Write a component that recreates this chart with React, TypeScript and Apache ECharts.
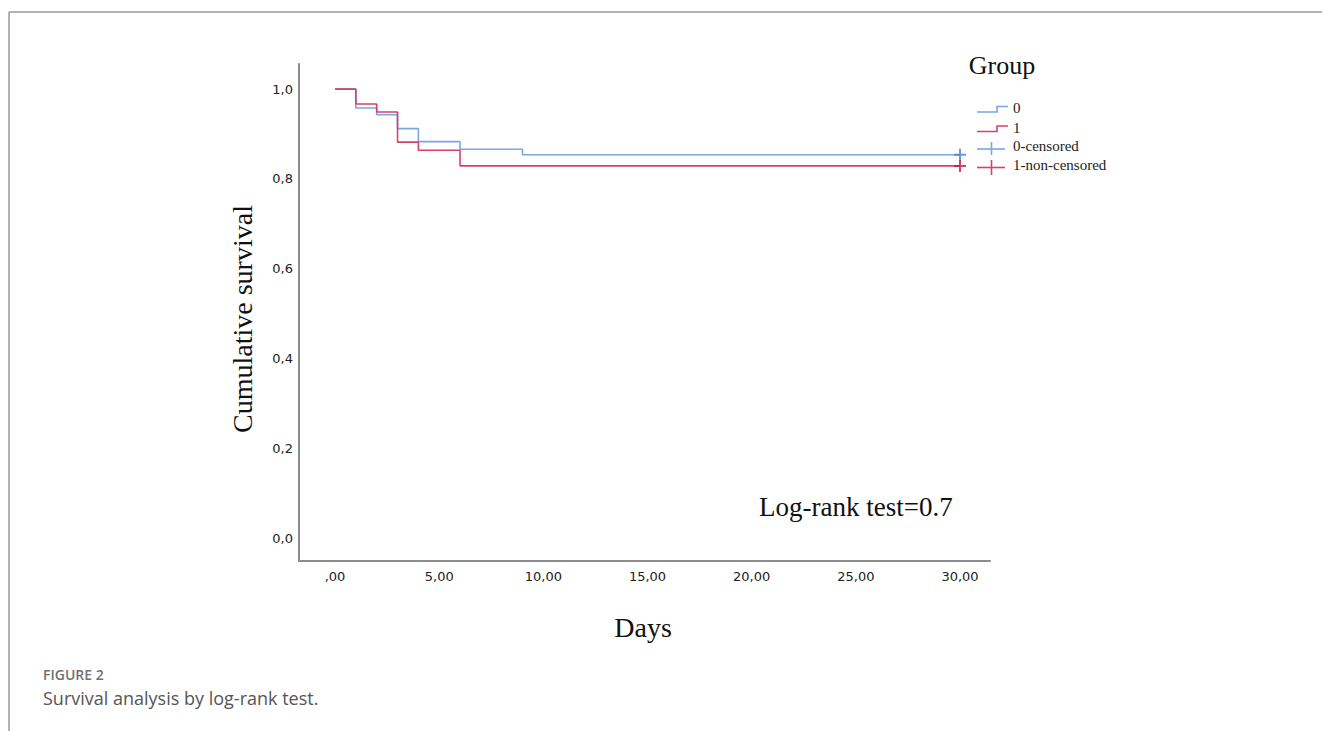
import React, { useEffect, useRef } from "react";
import * as echarts from "echarts";

// ---- data ----
const group0Days = [0, 1, 2, 3, 4, 6, 9, 30];
const group0Surv = [1.0, 0.958, 0.943, 0.912, 0.883, 0.866, 0.854, 0.854];
const group1Days = [0, 1, 2, 3, 4, 6, 30];
const group1Surv = [1.0, 0.967, 0.949, 0.882, 0.864, 0.829, 0.829];
const censored0 = [[30, 0.854]];
const censored1 = [[30, 0.829]];
const xTicks = [0, 5, 10, 15, 20, 25, 30];
const yTicks = [0, 0.2, 0.4, 0.6, 0.8, 1.0];
const legendNames = ["0", "1", "0-censored", "1-non-censored"];

const BLUE = "#7aa6e2";
const RED = "#d6416a";
const BLUE_MARK = "#3f80d8";
const RED_MARK = "#d0123f";
const SERIF = "'Liberation Serif', 'Times New Roman', serif";
const SANS = "'DejaVu Sans', sans-serif";

const plus = "path://M5,0H7V5H12V7H7V12H5V7H0V5H5Z";

export default function App() {
  const ref = useRef<HTMLDivElement>(null);
  useEffect(() => {
    if (!ref.current) return;
    const chart = echarts.init(ref.current, undefined, { renderer: "svg" });
    const s0 = group0Days.map((d, i) => [d, group0Surv[i]]);
    const s1 = group1Days.map((d, i) => [d, group1Surv[i]]);
    const legendY = [108, 128, 146, 165];
    const option: any = {
      animation: false,
      backgroundColor: "#ffffff",
      grid: { left: 299, right: 332, top: 64, bottom: 170, containLabel: false },
      xAxis: {
        type: "value",
        min: -1.73,
        max: 31.44,
        axisLine: { show: true, onZero: false, lineStyle: { color: "#8c8c8c", width: 2 } },
        axisTick: { show: false },
        splitLine: { show: false },
        axisLabel: {
          customValues: xTicks,
          margin: 9,
          color: "#222",
          fontSize: 13,
          fontFamily: SANS,
          formatter: (v: number) =>
            v === 0 ? ",00" : v.toFixed(2).replace(".", ","),
        },
      },
      yAxis: {
        type: "value",
        min: -0.051,
        max: 1.056,
        axisLine: { show: true, onZero: false, lineStyle: { color: "#8c8c8c", width: 2 } },
        axisTick: { show: false },
        splitLine: { show: false },
        axisLabel: {
          customValues: yTicks,
          margin: 6,
          color: "#222",
          fontSize: 13,
          fontFamily: SANS,
          formatter: (v: number) => v.toFixed(1).replace(".", ","),
        },
      },
      series: [
        {
          name: legendNames[0],
          type: "line",
          step: "end",
          data: s0,
          symbol: "none",
          lineStyle: { color: BLUE, width: 1.6 },
          z: 2,
        },
        {
          name: legendNames[1],
          type: "line",
          step: "end",
          data: s1,
          symbol: "none",
          lineStyle: { color: RED, width: 1.6 },
          z: 3,
        },
        {
          name: legendNames[2],
          type: "scatter",
          data: censored0,
          symbol: plus,
          symbolSize: 12,
          itemStyle: { color: BLUE_MARK },
          z: 4,
        },
        {
          name: legendNames[3],
          type: "scatter",
          data: censored1,
          symbol: plus,
          symbolSize: 12,
          itemStyle: { color: RED_MARK },
          z: 5,
        },
      ],
      graphic: [
        // frame
        { type: "line", shape: { x1: 9, y1: 12, x2: 1322, y2: 12 }, style: { stroke: "#9a9a9a", lineWidth: 1.5 } },
        { type: "line", shape: { x1: 9, y1: 12, x2: 9, y2: 731 }, style: { stroke: "#9a9a9a", lineWidth: 1.5 } },
        // axis titles
        {
          type: "text",
          x: 242,
          y: 319,
          rotation: Math.PI / 2,
          style: { text: "Cumulative survival", font: `28px ${SERIF}`, fill: "#111", align: "center", verticalAlign: "middle" },
        },
        {
          type: "text",
          x: 643,
          y: 627,
          style: { text: "Days", font: `28px ${SERIF}`, fill: "#111", align: "center", verticalAlign: "middle" },
        },
        {
          type: "text",
          x: 759,
          y: 507,
          style: { text: "Log-rank test=0.7", font: `27px ${SERIF}`, fill: "#111", align: "left", verticalAlign: "middle" },
        },
        // legend
        {
          type: "text",
          x: 1002,
          y: 65,
          style: { text: "Group", font: `26px ${SERIF}`, fill: "#111", align: "center", verticalAlign: "middle" },
        },
        { type: "polyline", shape: { points: [[977, 112], [997, 112], [997, 106.5], [1008, 106.5]] }, style: { stroke: BLUE, lineWidth: 1.6, fill: "none" } },
        { type: "polyline", shape: { points: [[977, 131.5], [997, 131.5], [997, 126], [1008, 126]] }, style: { stroke: RED, lineWidth: 1.6, fill: "none" } },
        { type: "line", shape: { x1: 977, y1: 149, x2: 1005, y2: 149 }, style: { stroke: BLUE, lineWidth: 1.6 } },
        { type: "line", shape: { x1: 991.5, y1: 142, x2: 991.5, y2: 155 }, style: { stroke: BLUE, lineWidth: 1.6 } },
        { type: "line", shape: { x1: 977, y1: 167.5, x2: 1005, y2: 167.5 }, style: { stroke: RED, lineWidth: 1.6 } },
        { type: "line", shape: { x1: 991.5, y1: 160, x2: 991.5, y2: 175 }, style: { stroke: RED, lineWidth: 1.6 } },
        ...legendNames.map((n, i) => ({
          type: "text",
          x: 1013,
          y: legendY[i],
          style: { text: n, font: `15px ${SERIF}`, fill: "#222", align: "left", verticalAlign: "middle" },
        })),
        // caption
        {
          type: "text",
          x: 43,
          y: 674,
          style: { text: "FIGURE 2", font: `600 14px 'Open Sans', sans-serif`, fill: "#707070", align: "left", verticalAlign: "middle" },
        },
        {
          type: "text",
          x: 43,
          y: 698,
          style: { text: "Survival analysis by log-rank test.", font: `18px 'Open Sans', sans-serif`, fill: "#555", align: "left", verticalAlign: "middle" },
        },
      ],
    };
    chart.setOption(option);
    return () => chart.dispose();
  }, []);
  return (
    <div
      ref={ref}
      style={{ position: "fixed", left: 0, top: 0, width: 1322, height: 731, background: "#fff" }}
    />
  );
}
